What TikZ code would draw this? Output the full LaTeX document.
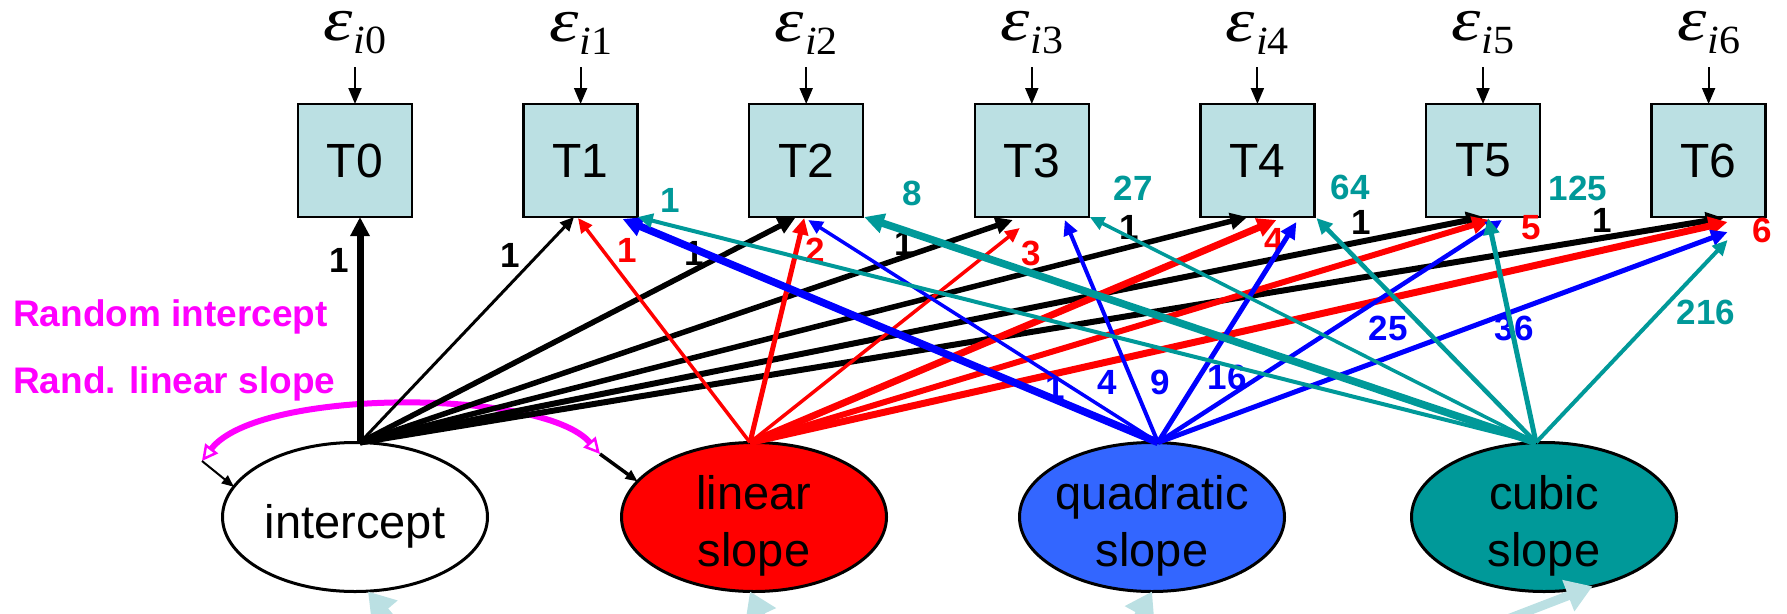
\documentclass[tikz,border=0pt]{standalone}
\usepackage{fontspec}
\usepackage{graphicx}
\setmainfont{Liberation Sans}
\newfontfamily\serifit{Liberation Serif}
\usetikzlibrary{arrows.meta,shapes.geometric}
\definecolor{boxfill}{HTML}{BBE0E3}
\definecolor{tealc}{HTML}{009999}
\definecolor{quadfill}{HTML}{3366FF}
\definecolor{magc}{HTML}{FF00FF}
\definecolor{bluec}{HTML}{0000FF}
\definecolor{redc}{HTML}{FF0000}
% error term label: an italic epsilon with subscript i<k>
\newcommand\epslab[1]{\scalebox{1.2}[1]{\fontsize{62}{62}\selectfont\serifit\itshape ε}\kern1pt\raisebox{-13pt}{\scalebox{1.05}[1]{\fontsize{40}{40}\selectfont\serifit{\itshape i}#1}}}

\begin{document}
\begin{tikzpicture}[x=1pt,y=-1pt,
  tbox/.style={draw=black, line width=2.5pt, fill=boxfill, minimum width=114pt,
    minimum height=113pt, inner sep=0pt, outer sep=0pt, font=\fontsize{48}{48}\selectfont},
  lat/.style={ellipse, draw=black, line width=3pt, minimum width=265pt,
    minimum height=149pt, inner sep=0pt, outer sep=0pt},
  lattext/.style={align=center, inner sep=0pt, font=\fontsize{47}{57}\selectfont},
  epsnode/.style={inner sep=0pt},
  earrow/.style={line width=2pt, -{Triangle[length=16pt,width=13pt]}},
  load/.style={-{Triangle[length=10pt 1.3, width=8pt 1.5]}},
  num/.style={inner sep=0pt, font=\fontsize{35}{35}\selectfont\bfseries},
  side/.style={anchor=base west, inner sep=0pt, text=magc, font=\fontsize{37}{37}\selectfont\bfseries},
  resid/.style={draw=boxfill, line width=9pt, -{Triangle[length=26pt, width=32pt]}},
  covar/.style={draw=magc, line width=6pt, {Triangle[open, fill=white, line width=2.5pt, length=16pt,width=16pt]}-{Triangle[open, fill=white, line width=2.5pt, length=16pt,width=16pt]}},
  tick/.style={-{Triangle[length=12pt,width=10pt]}}
]
\useasboundingbox (0,0) rectangle (1787,613);
\clip (0,0) rectangle (1787,613);

% observed measures and their error terms
\foreach \k in {0,...,6}{
  \node[tbox] (T\k) at (355+225.6*\k,160.5) {T\k};
  \node[epsnode] (e\k) at (355+225.6*\k,33) {\epslab{\k}};
  \draw[earrow] (e\k.center) ++(0,34) -- (T\k.north);
}

% growth factors
\node[lat, fill=white] (intercept) at (355,517) {};
\node[lat, fill=redc] (linear) at (754,517) {};
\node[lat, fill=quadfill] (quadratic) at (1152,517) {};
\node[lat, fill=tealc] (cubic) at (1544,517) {};
\node[lattext, anchor=base] (tint) at (355,538) {intercept};
\node[lattext] (tlin) at (754,526) {linear\\slope};
\node[lattext] (tquad) at (1152,526) {quadratic\\slope};
\node[lattext] (tcub) at (1544,526) {cubic\\slope};

% factor disturbances entering from below
\coordinate (bI) at (430,665);
\coordinate (bL) at (785,668);
\coordinate (bQ) at (1110,668);
\coordinate (bC) at (1440,645);
\draw[resid] (bI) -- ([xshift=13pt]intercept.south);
\draw[resid] (bL) -- ([xshift=-4pt]linear.south);
\draw[resid] (bQ) -- (quadratic.south);
\draw[resid] (bC) -- (cubic.-55);

% side legend
\node[side] (leg1) at (13,326) {Random intercept};
\node[side] (leg2) at (13,393) {Rand. linear slope};

% loading labels
\foreach \x/\y/\t [count=\i] in {339/260/1, 510/255/1, 694/253/1, 904/243/1, 1129/227/1, 1361/222/1, 1602/220/1}
  \node[num, text=black] (ni\i) at (\x,\y) {\t};
\foreach \x/\y/\t [count=\i] in {627/250/1, 815/250/2, 1031/253/3, 1274/240/4, 1531/228/5, 1762/230/6}
  \node[num, text=redc] (nl\i) at (\x,\y) {\t};
\foreach \x/\y/\t [count=\i] in {670/200/1, 912/193/8, 1133/188/27, 1350/187/64, 1578/188/125, 1706/312/216}
  \node[num, text=tealc] (nc\i) at (\x,\y) {\t};
\foreach \x/\y/\t [count=\i] in {1055/387/1, 1107/382/4, 1160/382/9, 1227/377/16, 1388/328/25, 1514/328/36}
  \node[num, text=bluec] (nq\i) at (\x,\y) {\t};

% covariance between intercept and linear slope
\coordinate (cvL) at (202,461);
\coordinate (cvR) at (600,454);
\draw[covar] (cvL) .. controls (258,388) and (542,388) .. (cvR);
\draw[tick, line width=2pt] (cvL) -- (intercept.166);
\draw[tick, line width=3.5pt] (cvR) -- (linear.163);

% intercept loadings
\foreach \k/\w/\dx/\dy in {0/7/5/0, 1/3/-6.6/0, 2/5.5/-11/1, 3/5.5/-19/3, 4/5.5/-10/0, 5/6/1/0, 6/6/15/1}
  \draw[load, black, line width=\w pt] ([xshift=5pt]intercept.north) -- ([xshift=\dx pt, yshift=-\dy pt]T\k.south);
% linear slope loadings
\foreach \k/\w/\dx/\dy in {1/3.5/-2.6/1, 2/5/-2/1, 3/3.5/-12/11, 4/7/19/3, 5/6/7/3, 6/7/19/5}
  \draw[load, redc, line width=\w pt] ([xshift=-4pt]linear.north) -- ([xshift=\dx pt, yshift=-\dy pt]T\k.south);
% quadratic slope loadings
\foreach \k/\w/\dx/\dy in {1/7.5/42/2, 2/3.5/2/3, 3/4/33/3, 4/5/39/5, 5/4.5/19/3, 6/5/19/15}
  \draw[load, bluec, line width=\w pt] ([xshift=6pt]quadratic.north) -- ([xshift=\dx pt, yshift=-\dy pt]T\k.south);
% cubic slope loadings
\foreach \k/\w/\dx/\dy in {1/4/57/0, 2/7.5/58/0, 3/3.5/58/0, 4/4.5/59/1, 5/5/5/1, 6/4/19/23}
  \draw[load, tealc, line width=\w pt] ([xshift=-8pt]cubic.north) -- ([xshift=\dx pt, yshift=-\dy pt]T\k.south);
\end{tikzpicture}
\end{document}
